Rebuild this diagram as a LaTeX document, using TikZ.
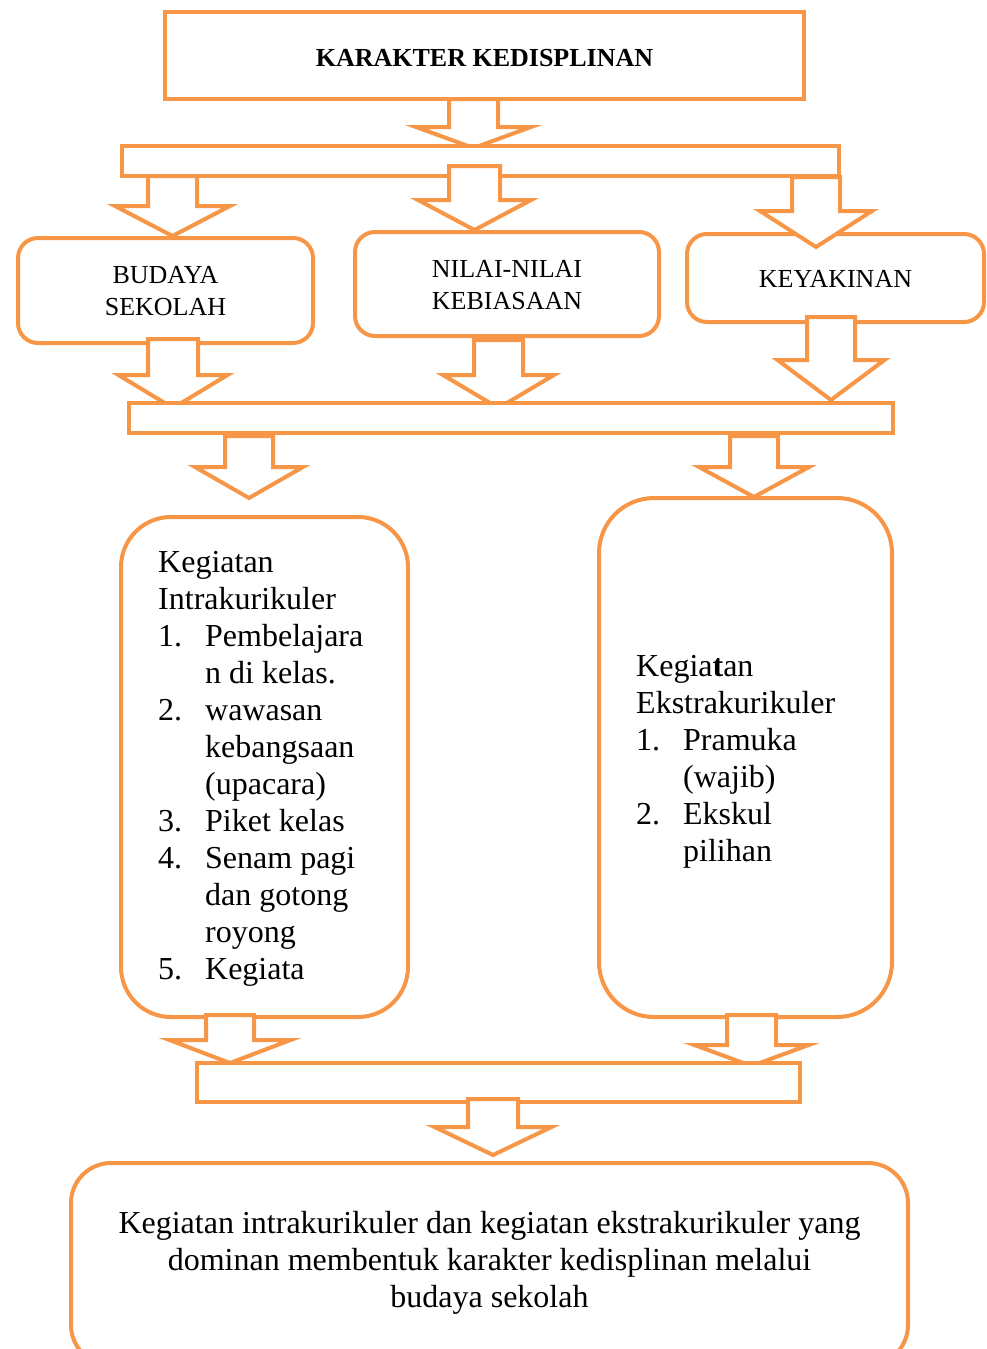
\documentclass[tikz,border=0pt]{standalone}
\usepackage{fontspec}
\setmainfont{Liberation Serif}
\definecolor{orng}{HTML}{F79646}
\newcommand\barrow[6]{\draw[barr] ({#1-#5+2},#2) -- ({#1-#5+2},#3) -- ({#1-#6+3},#3) -- (#1,#4-2) -- ({#1+#6-3},#3) -- ({#1+#5-2},#3) -- ({#1+#5-2},#2) -- cycle;}
\tikzset{
  sqbox/.style={draw=orng, line width=4pt, fill=white, inner sep=0pt, outer sep=0pt},
  rbox/.style={sqbox, rounded corners=#1},
  barr/.style={draw=orng, line width=4pt, fill=white, line join=miter},
  small/.style={inner sep=0pt, font=\fontsize{26}{32}\selectfont},
  big/.style={inner sep=0pt, font=\fontsize{32}{37}\selectfont},
}
\begin{document}
\begin{tikzpicture}[x=1pt,y=-1pt]
\useasboundingbox (0,0) rectangle (986,1349);
% title
\node[sqbox, minimum width=639, minimum height=87] (title) at (484.5,55.5) {};
\node[small, anchor=base, font=\fontsize{26}{32}\selectfont\bfseries] (titletext) at (484.5,66) {KARAKTER KEDISPLINAN};
% arrow title -> bar1
\barrow{473.5}{99}{127}{150}{26.5}{60.5}
\node[sqbox, minimum width=717, minimum height=30] (bar1) at (480.5,161) {};
% row 1 boxes
\node[rbox=20pt, minimum width=295, minimum height=105] (budaya) at (165.5,290.5) {};
\node[rbox=20pt, minimum width=304, minimum height=104] (nilai) at (507,284) {};
\node[rbox=20pt, minimum width=297, minimum height=88] (keyakinan) at (835.5,278) {};
\node[small, anchor=base] (budayatext) at (165.5,283) {\begin{tabular}[t]{@{}c@{}}BUDAYA\\SEKOLAH\end{tabular}};
\node[small, anchor=base] (nilaitext) at (507,277) {\begin{tabular}[t]{@{}c@{}}NILAI-NILAI\\KEBIASAAN\end{tabular}};
\node[small, anchor=base] (keyakinantext) at (835.5,287) {KEYAKINAN};
% arrows bar1 -> row 1
\barrow{172.5}{176}{206}{238}{26.5}{60.5}
\barrow{474.5}{166}{200}{232}{27.5}{59.5}
\barrow{816}{177}{211}{249}{26}{59}
% arrows row 1 -> bar2
\barrow{173}{339}{375}{410}{27}{57.5}
\barrow{498.5}{340}{375}{410}{26.5}{58.5}
\barrow{831}{317}{360}{402}{26}{56.5}
\node[sqbox, minimum width=764, minimum height=30] (bar2) at (511,418) {};
% arrows bar2 -> row 2
\barrow{249}{436}{467}{500}{26}{57}
\barrow{754}{436}{467}{499}{26}{58}
% row 2 boxes
\node[rbox=50pt, minimum width=287, minimum height=500] (intra) at (264.5,767) {};
\node[rbox=55pt, minimum width=293, minimum height=519] (ekstra) at (745.5,757.5) {};
\node[big, anchor=base west] (intratext) at (158,572) {\begin{tabular}[t]{@{}p{47pt}@{}l@{}}
\multicolumn{2}{@{}l@{}}{Kegiatan}\\
\multicolumn{2}{@{}l@{}}{Intrakurikuler}\\
1. & Pembelajara\\
 & n di kelas.\\
2. & wawasan\\
 & kebangsaan\\
 & (upacara)\\
3. & Piket kelas\\
4. & Senam pagi\\
 & dan gotong\\
 & royong\\
5. & Kegiata
\end{tabular}};
\node[big, anchor=base west] (ekstratext) at (636,676) {\begin{tabular}[t]{@{}p{47pt}@{}l@{}}
\multicolumn{2}{@{}l@{}}{Kegia\textbf{t}an}\\
\multicolumn{2}{@{}l@{}}{Ekstrakurikuler}\\
1. & Pramuka\\
 & (wajib)\\
2. & Ekskul\\
 & pilihan
\end{tabular}};
% arrows row 2 -> bar3
\barrow{230}{1015}{1040}{1065}{26}{63.5}
\barrow{751.5}{1015}{1045}{1068}{26.5}{60}
\node[sqbox, minimum width=603, minimum height=39] (bar3) at (498.5,1082.5) {};
% arrow bar3 -> conclusion
\barrow{493}{1099}{1127}{1157}{27}{61.5}
\node[rbox=40pt, minimum width=837, minimum height=202] (concl) at (489.5,1264) {};
\node[big, anchor=base] (concltext) at (489.5,1233) {\begin{tabular}[t]{@{}c@{}}Kegiatan intrakurikuler dan kegiatan ekstrakurikuler yang\\dominan membentuk karakter kedisplinan melalui\\budaya sekolah\end{tabular}};
\end{tikzpicture}
\end{document}
